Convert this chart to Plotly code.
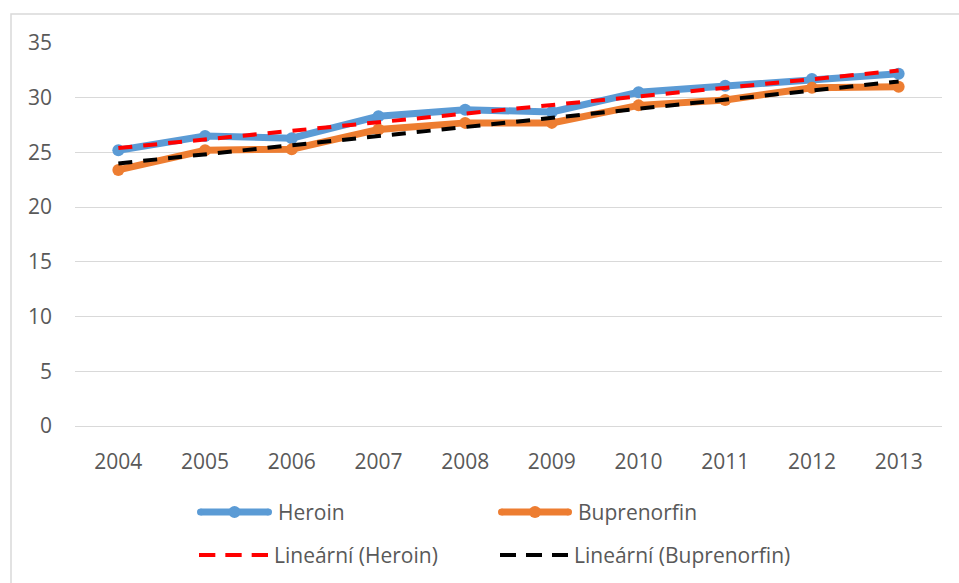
import numpy as np
import plotly.graph_objects as go

# Data
years = [2004, 2005, 2006, 2007, 2008, 2009, 2010, 2011, 2012, 2013]
heroin = [25.2, 26.5, 26.3, 28.3, 28.9, 28.7, 30.5, 31.1, 31.7, 32.2]
buprenorfin = [23.4, 25.2, 25.3, 27.1, 27.7, 27.7, 29.3, 29.8, 30.9, 31.0]
y_ticks = [0, 5, 10, 15, 20, 25, 30, 35]

BLUE = "#5B9BD5"
ORANGE = "#ED7D31"
TEXT = "#595959"
GRID = "#D9D9D9"
FONT = "Open Sans"
FSIZE = 21

# Least-squares linear trends
x = np.array(years, dtype=float)
h_fit = np.polyval(np.polyfit(x, heroin, 1), x)
b_fit = np.polyval(np.polyfit(x, buprenorfin, 1), x)

fig = go.Figure()
fig.add_trace(go.Scatter(x=years, y=heroin, mode="lines+markers", name="Heroin",
                         line=dict(color=BLUE, width=7),
                         marker=dict(color=BLUE, size=12)))
fig.add_trace(go.Scatter(x=years, y=buprenorfin, mode="lines+markers", name="Buprenorfin",
                         line=dict(color=ORANGE, width=7),
                         marker=dict(color=ORANGE, size=12)))
fig.add_trace(go.Scatter(x=years, y=h_fit, mode="lines", name="Lineární (Heroin)",
                         line=dict(color="#FF0000", width=4, dash="14px,11px")))
fig.add_trace(go.Scatter(x=years, y=b_fit, mode="lines", name="Lineární (Buprenorfin)",
                         line=dict(color="#000000", width=4, dash="14px,11px")))

# Plot area geometry in pixels (for the hand-built legend and frame)
L, R, T, B = 75, 17, 43, 157
W, H = 959, 583
pw, ph = W - L - R, H - T - B


def px(v):
    return (v - L) / pw


def py(v):
    return (H - B - v) / ph


shapes = [
    # outer chart frame
    dict(type="rect", xref="paper", yref="paper", x0=px(11), x1=px(990),
         y0=py(14), y1=py(620), line=dict(color=GRID, width=1.5), layer="below"),
]
annotations = []

legend_items = [
    ("Heroin", BLUE, "solid", 7, 197, 272, 512),
    ("Buprenorfin", ORANGE, "solid", 7, 498, 572, 512),
    ("Lineární (Heroin)", "#FF0000", "dash", 4, 199, 268, 555),
    ("Lineární (Buprenorfin)", "#000000", "dash", 4, 500, 568, 555),
]
for label, color, style, lw, x0, x1, yc in legend_items:
    if style == "solid":
        shapes.append(dict(type="line", xref="paper", yref="paper",
                           x0=px(x0 + 3.5), x1=px(x1 - 3.5), y0=py(yc), y1=py(yc),
                           line=dict(color=color, width=lw)))
        for cx in (x0 + 3.5, x1 - 3.5):
            shapes.append(dict(type="circle", xref="paper", yref="paper",
                               x0=px(cx - 3.5), x1=px(cx + 3.5),
                               y0=py(yc - 3.5), y1=py(yc + 3.5),
                               fillcolor=color, line=dict(width=0)))
        cx = (x0 + x1) / 2
        shapes.append(dict(type="circle", xref="paper", yref="paper",
                           x0=px(cx - 6), x1=px(cx + 6), y0=py(yc - 6), y1=py(yc + 6),
                           fillcolor=color, line=dict(width=0)))
    else:
        gap = 10
        seg = (x1 - x0 - 2 * gap) / 3
        for i in range(3):
            s0 = x0 + i * (seg + gap)
            shapes.append(dict(type="line", xref="paper", yref="paper",
                               x0=px(s0), x1=px(s0 + seg), y0=py(yc), y1=py(yc),
                               line=dict(color=color, width=lw)))
    annotations.append(dict(text=label, xref="paper", yref="paper",
                            x=px(x1 + 4), y=py(yc), xanchor="left", yanchor="middle",
                            showarrow=False,
                            font=dict(family=FONT, size=FSIZE, color=TEXT)))

fig.update_layout(
    width=W, height=H,
    margin=dict(l=L, r=R, t=T, b=B),
    paper_bgcolor="white", plot_bgcolor="white",
    showlegend=False,
    font=dict(family=FONT, size=FSIZE, color=TEXT),
    shapes=shapes,
    annotations=annotations,
    xaxis=dict(range=[2003.5, 2013.5], tickvals=years, ticktext=[str(y) for y in years],
               showgrid=False, zeroline=False, showline=True, linecolor=GRID, linewidth=1,
               ticks="", ticklabelstandoff=17, fixedrange=True),
    yaxis=dict(range=[0, 35], tickvals=y_ticks, showgrid=True, gridcolor=GRID, gridwidth=1,
               zeroline=False, showline=False, ticks="", ticklabelstandoff=22,
               fixedrange=True),
)

fig.write_html("out.html")
